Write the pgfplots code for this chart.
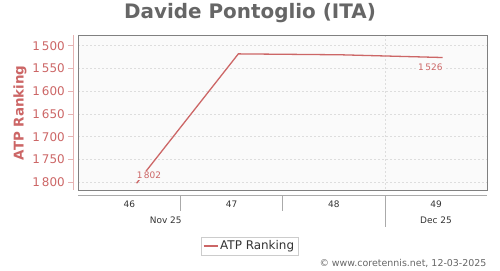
\documentclass[border=0pt]{standalone}
\usepackage{pgfplots}
\pgfplotsset{compat=1.18}
\usepackage{fontspec}
\setmainfont{DejaVu Sans}
\definecolor{rk}{HTML}{CC6666}
\definecolor{rkl}{HTML}{E6B3B3}
\definecolor{fr}{HTML}{808080}
\definecolor{bg}{HTML}{FAFAFA}
\definecolor{gr}{HTML}{DDDDDD}
\definecolor{tx}{HTML}{333333}
\definecolor{ti}{HTML}{666666}
\definecolor{xa}{HTML}{AAAAAA}
\begin{document}
\begin{tikzpicture}[x=1bp,y=1bp]
\useasboundingbox (0,0) rectangle (500,270);
% main plot
\begin{axis}[at={(78.3bp,79.7bp)}, anchor=south west, scale only axis,
  width=409bp, height=155bp,
  xmin=45.5, xmax=49.5, ymin=1477.2, ymax=1817.6, y dir=reverse,
  axis background/.style={fill=bg},
  axis line style={draw=fr, line width=0.9pt},
  xtick={48.5}, xticklabels={}, ytick={1500,1550,...,1800}, yticklabels={},
  major tick length=0pt,
  ymajorgrids, xmajorgrids, grid style={gr, dash pattern=on 2bp off 2bp, line width=0.6pt},
  clip=false]
\addplot[rk, line width=1.3pt] coordinates {(46.07,1802) (47.065,1518) (48.065,1520) (49.064,1526)};
\node[anchor=base west, xshift=-1bp, yshift=4.4bp, inner sep=1bp, fill=bg, text=rk, font=\fontsize{9}{9}\selectfont] at (axis cs:46.07,1802) {1\,802};
\node[anchor=base east, xshift=1bp, yshift=-12.7bp, inner sep=1bp, fill=bg, text=rk, font=\fontsize{9}{9}\selectfont] at (axis cs:49.064,1526) {1\,526};
\end{axis}
% y axis
\begin{axis}[at={(73.3bp,79.7bp)}, anchor=south west, scale only axis,
  width=10bp, height=155bp,
  xmin=0, xmax=1, ymin=1477.2, ymax=1817.6, y dir=reverse,
  axis y line=left, axis x line=none,
  y axis line style={draw=rkl, -, line width=0.8pt},
  ytick={1500,1550,...,1800},
  y tick style={draw=rkl, line width=0.8pt},
  tick align=outside, major tick length=5bp,
  yticklabel style={font=\fontsize{12}{12}\selectfont, text=rk},
  /pgf/number format/assume math mode=true,
  /pgf/number format/1000 sep={\,}]
\end{axis}
% x axis
\begin{axis}[at={(78.3bp,74.7bp)}, anchor=south west, scale only axis,
  width=409bp, height=20bp,
  xmin=45.5, xmax=49.5, ymin=0, ymax=1,
  axis x line=bottom, axis y line=none,
  x axis line style={draw=xa, -, line width=0.8pt},
  xtick={46,47,48,49}, major tick length=0pt,
  minor xtick={46.5,47.5}, minor tick length=15.5bp,
  extra x ticks={48.5}, extra x tick labels={},
  extra x tick style={major tick length=31.5bp, tick align=outside},
  x tick style={draw=xa, line width=0.8pt},
  tick align=outside,
  /pgf/number format/assume math mode=true,
  xticklabel style={font=\fontsize{9}{9}\selectfont, text=tx, yshift=-2.5bp},
  legend style={at={(axis description cs:0.4186,-2.535)}, anchor=center,
    draw=gray!40, fill=white, inner sep=2bp,
    font=\fontsize{12}{14}\selectfont, text=tx},
  legend image code/.code={\draw[#1] (0bp,0bp) -- (14bp,0bp);}]
\addlegendimage{rk, line width=1.3pt}
\addlegendentry{ATP Ranking}
\end{axis}
\node[font=\fontsize{9}{9}\selectfont, text=tx] at (165.7bp,50bp) {Nov 25};
\node[font=\fontsize{9}{9}\selectfont, text=tx] at (436bp,50bp) {Dec 25};
\node[rotate=90, font=\bfseries\fontsize{13.5}{13.5}\selectfont, text=rk] at (20bp,157.2bp) {ATP Ranking};
\node[font=\bfseries\fontsize{20}{20}\selectfont, text=ti] at (250bp,256.5bp) {Davide Pontoglio (ITA)};
\node[anchor=east, font=\fontsize{9.5}{9.5}\selectfont, text=ti] at (490bp,6.5bp) {© www.coretennis.net, 12-03-2025};
\end{tikzpicture}
\end{document}
